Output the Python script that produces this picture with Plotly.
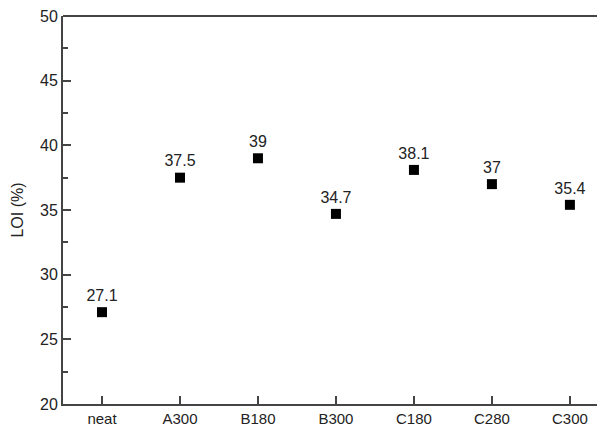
import plotly.graph_objects as go

categories = ["neat", "A300", "B180", "B300", "C180", "C280", "C300"]
loi_values = [27.1, 37.5, 39.0, 34.7, 38.1, 37.0, 35.4]
value_labels = ["27.1", "37.5", "39", "34.7", "38.1", "37", "35.4"]
y_ticks = [20, 25, 30, 35, 40, 45, 50]

fig = go.Figure()
fig.add_trace(go.Scatter(
    x=categories, y=loi_values, mode="markers+text",
    text=value_labels, textposition="top center",
    textfont=dict(family="Liberation Sans, Arial", size=16, color="#222"),
    marker=dict(symbol="square", size=10, color="black"),
    showlegend=False, cliponaxis=False,
))

# the page body has an 8px margin, so the figure is sized to fit the window
fig.update_layout(
    width=597, height=424,
    margin=dict(l=55, r=0, t=8, b=28),
    paper_bgcolor="white", plot_bgcolor="white",
    font=dict(family="Liberation Sans, Arial", size=15, color="#222"),
    xaxis=dict(
        type="category", range=[-0.5, 6.45], automargin=False,
        showline=True, linecolor="#444", linewidth=2,
        ticks="inside", ticklen=8, tickwidth=1.5, tickcolor="#444",
        showgrid=False, zeroline=False,
        tickfont=dict(size=15), ticklabeloverflow="allow",
    ),
    yaxis=dict(
        range=[20, 50], tickvals=y_ticks, automargin=False,
        showline=True, linecolor="#444", linewidth=2, mirror=False,
        ticks="inside", ticklen=8, tickwidth=1.5, tickcolor="#444",
        minor=dict(ticks="inside", ticklen=5, tickwidth=1.5, tickcolor="#444", dtick=2.5),
        showgrid=False, zeroline=False,
        title=dict(text="LOI (%)", font=dict(size=16), standoff=12),
        tickfont=dict(size=16), ticklabeloverflow="allow",
    ),
    shapes=[dict(type="line", xref="paper", yref="paper", x0=0, x1=1, y0=1, y1=1,
                 line=dict(color="#444", width=2))],
)

fig.write_html("out.html")
